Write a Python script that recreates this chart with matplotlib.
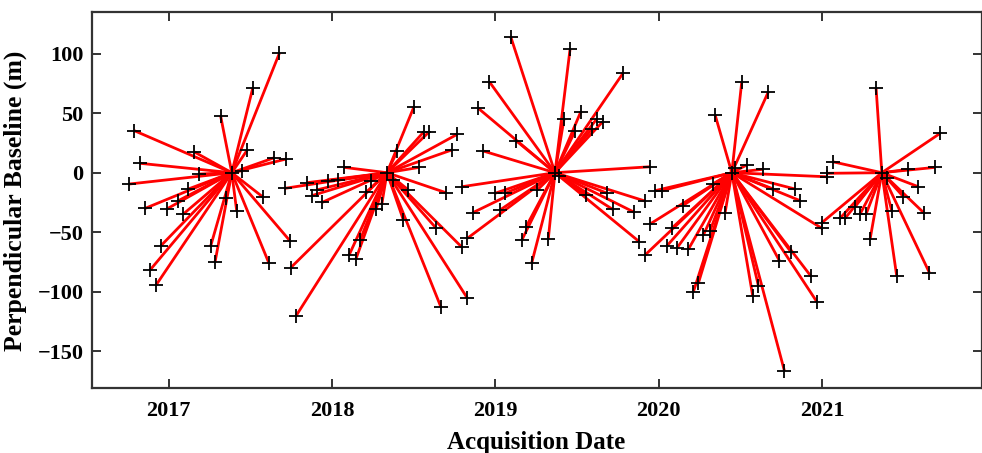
import matplotlib
matplotlib.use("Agg")
import matplotlib.pyplot as plt

# Master acquisitions (decimal year, perpendicular baseline in m)
master_dates = [2017.387, 2018.337, 2019.365, 2020.447, 2021.365]
master_bperp = [0.0, 0.0, 0.0, 0.0, 0.0]

# Slave acquisitions linked to each master
slaves_2017_dates = [2017.678, 2017.515, 2017.319, 2016.791, 2017.156, 2017.482, 2017.647,
                     2017.719, 2016.826, 2017.448, 2017.188, 2016.760, 2017.121, 2017.056,
                     2017.580, 2016.858, 2016.989, 2017.091, 2017.352, 2017.417, 2016.954,
                     2017.258, 2017.285, 2017.615, 2017.744, 2016.887, 2016.924]
slaves_2017_bperp = [100.3, 70.9, 47.6, 35.3, 17.6, 19.1, 12.6,
                     11.5, 7.9, 1.7, -1.1, -9.5, -13.7, -23.8,
                     -20.7, -29.9, -30.5, -34.7, -21.5, -31.9, -61.3,
                     -61.6, -74.8, -76.2, -57.4, -81.8, -94.4]

slaves_2018_dates = [2018.502, 2018.563, 2018.596, 2018.767, 2018.733, 2018.400, 2018.535,
                     2018.074, 2017.713, 2017.846, 2017.978, 2018.039, 2018.239, 2018.372,
                     2017.907, 2017.876, 2017.941, 2018.209, 2018.468, 2018.698, 2018.270,
                     2018.305, 2018.437, 2018.635, 2018.172, 2018.105, 2018.146, 2017.748,
                     2017.780, 2018.666, 2018.829, 2018.796]
slaves_2018_bperp = [55.5, 34.5, 34.5, 32.3, 19.1, 18.2, 4.5,
                     4.5, -13.1, -8.4, -6.7, -6.1, -7.0, -6.0,
                     -14.5, -19.3, -24.9, -16.5, -14.5, -16.8, -30.8,
                     -26.6, -39.7, -46.2, -56.6, -69.2, -72.8, -79.8,
                     -120.4, -112.6, -105.5, -62.7]

slaves_2019_dates = [2019.094, 2019.457, 2019.783, 2018.963, 2018.896, 2019.420, 2019.523,
                     2019.620, 2019.657, 2019.488, 2019.590, 2019.127, 2018.927, 2019.947,
                     2019.390, 2018.794, 2018.998, 2019.059, 2019.257, 2019.555, 2019.685,
                     2019.916, 2018.862, 2019.029, 2019.718, 2019.851, 2019.188, 2019.162,
                     2019.324, 2018.829, 2019.881, 2019.223]
slaves_2019_bperp = [114.3, 103.7, 84.0, 76.5, 54.1, 44.9, 51.3,
                     45.1, 42.9, 35.0, 36.5, 26.9, 18.2, 5.0,
                     -2.5, -11.8, -17.3, -17.3, -14.5, -18.7, -17.3,
                     -23.8, -33.6, -31.3, -30.8, -33.3, -45.4, -56.6,
                     -55.7, -55.1, -58.0, -75.6]

slaves_2020_dates = [2020.508, 2020.671, 2020.345, 2020.467, 2020.539, 2020.640, 2021.028,
                     2020.330, 2020.701, 2020.834, 2020.865, 2019.977, 2020.018, 2020.147,
                     2020.406, 2019.947, 2020.079, 2020.273, 2020.314, 2020.049, 2020.110,
                     2020.181, 2019.916, 2020.808, 2020.738, 2020.930, 2020.967, 2020.242,
                     2020.212, 2020.610, 2020.575, 2020.769, 2020.998]
slaves_2020_bperp = [76.5, 68.1, 48.5, 3.7, 6.5, 2.9, -3.4,
                     -9.5, -13.7, -13.7, -23.5, -15.1, -15.1, -27.7,
                     -33.6, -43.1, -46.7, -52.4, -48.7, -61.6, -63.5,
                     -64.4, -69.2, -66.4, -73.9, -86.8, -108.4, -93.0,
                     -100.0, -95.2, -103.6, -166.6, -46.7]

slaves_2021_dates = [2021.330, 2021.722, 2021.065, 2021.528, 2021.691, 2021.028, 2021.395,
                     2021.589, 2021.497, 2021.625, 2021.426, 2021.201, 2021.109, 2021.140,
                     2021.232, 2021.269, 2020.998, 2021.293, 2021.456, 2021.656]
slaves_2021_bperp = [70.9, 33.1, 9.2, 2.9, 4.5, -0.5, -4.7,
                     -11.8, -20.2, -34.1, -32.2, -28.6, -38.3, -38.3,
                     -34.7, -34.7, -42.0, -56.0, -86.8, -84.0]

year_ticks = [2017, 2018, 2019, 2020, 2021]
bperp_ticks = [-150, -100, -50, 0, 50, 100]

slave_dates = [slaves_2017_dates, slaves_2018_dates, slaves_2019_dates,
               slaves_2020_dates, slaves_2021_dates]
slave_bperp = [slaves_2017_bperp, slaves_2018_bperp, slaves_2019_bperp,
               slaves_2020_bperp, slaves_2021_bperp]

plt.rcParams['font.family'] = ['Liberation Serif', 'DejaVu Serif']
plt.rcParams['font.weight'] = 'bold'

fig = plt.figure(figsize=(9.82, 4.53), dpi=100)
ax = fig.add_axes([0.0934, 0.1428, 0.9061, 0.830])

# interferometric pairs: each slave connected to its master
for mx, my, sxs, sys_ in zip(master_dates, master_bperp, slave_dates, slave_bperp):
    for sx, sy in zip(sxs, sys_):
        ax.plot([mx, sx], [my, sy], color='red', lw=2.0, solid_capstyle='butt', zorder=2)

all_x = list(master_dates)
all_y = list(master_bperp)
for sxs, sys_ in zip(slave_dates, slave_bperp):
    all_x += sxs
    all_y += sys_
ax.plot(all_x, all_y, '+', color='black', ms=10, mew=1.3, zorder=3, linestyle='none')

ax.set_xlim(2016.530, 2021.975)
ax.set_ylim(-181.2, 134.8)
ax.set_xticks(year_ticks)
ax.set_xticklabels([str(y) for y in year_ticks])
ax.set_yticks(bperp_ticks)
ax.set_yticklabels([str(v).replace('-', '\u2212') for v in bperp_ticks])

ax.tick_params(direction='in', length=6.5, width=1.4, top=True, right=True,
               labelsize=16, color='#333333')
ax.tick_params(axis='y', pad=6)
ax.tick_params(axis='x', pad=9)
for lab in ax.get_xticklabels() + ax.get_yticklabels():
    lab.set_fontweight('bold')
for sp in ax.spines.values():
    sp.set_linewidth(1.6)
    sp.set_color('#333333')

ax.set_xlabel('Acquisition Date', fontsize=18, fontweight='bold', labelpad=7)
ax.set_ylabel('Perpendicular Baseline (m)', fontsize=18.5, fontweight='bold')
ax.yaxis.set_label_coords(-0.0727, 0.5)

fig.savefig('out.png', dpi=100)
